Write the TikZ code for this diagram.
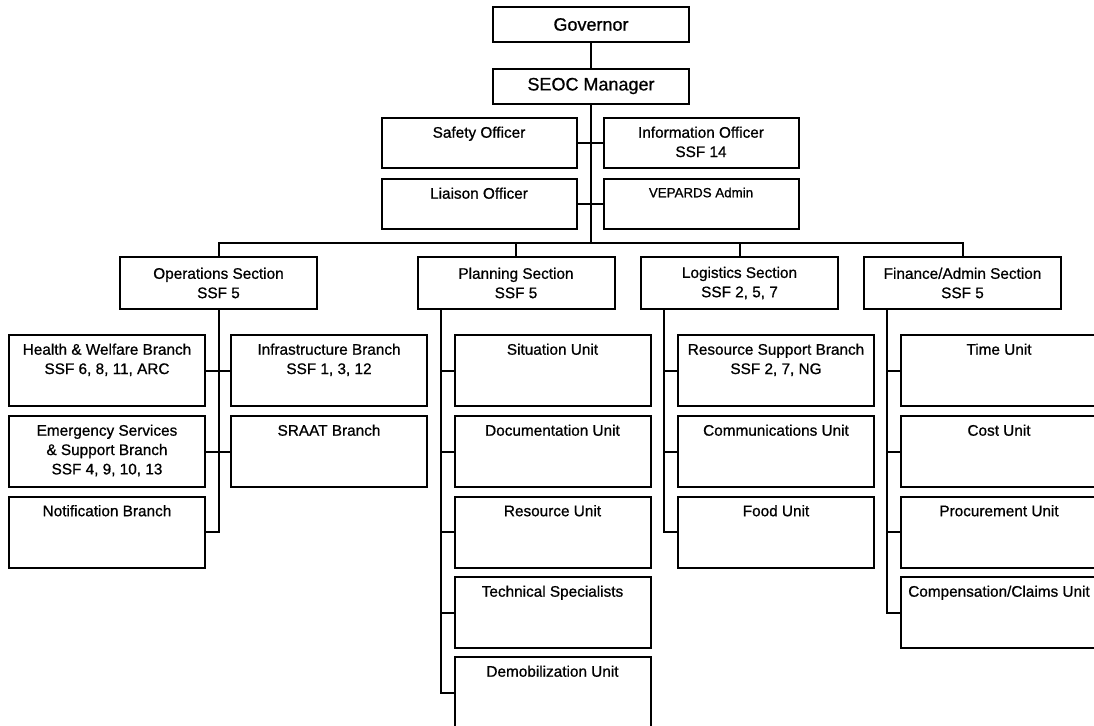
\documentclass[tikz,border=0pt]{standalone}
\usepackage{fontspec}
\setmainfont{Liberation Sans}[FakeBold=0.8,AutoFakeBold=0.8]
\usetikzlibrary{calc}

\begin{document}
\begin{tikzpicture}[x=0.75pt, y=-0.75pt,
  every node/.style={inner sep=0pt, align=center, font=\fontsize{11.5}{14.5}\selectfont\bfseries},
  chart/.style={draw, line width=1.5pt},
  head/.style={chart, minimum width=147pt, minimum height=26.25pt, font=\fontsize{13.5}{16}\selectfont\bfseries},
  officer/.style={chart, minimum width=146.25pt, minimum height=37.5pt, label={[toptext]north:#1}},
  section/.style={chart, minimum width=147.75pt, minimum height=39pt},
  unit/.style={chart, minimum width=147pt, minimum height=53.25pt, label={[toptext]north:#1}},
  toptext/.style={anchor=north, yshift=-7pt},
  link/.style={line width=1.5pt}]
\useasboundingbox (0,0) rectangle (1094,725);

% command staff
\node[head] (Governor) at (591,24.5) {Governor};
\node[head] (SEOC Manager) at (591,86) {SEOC Manager};
\node[officer={Safety Officer}] (Safety Officer) at (479,143) {};
\node[officer={Information Officer\\SSF 14}] (Information Officer) at (701,143) {};
\node[officer={Liaison Officer}] (Liaison Officer) at (479,204) {};
\node[officer={\fontsize{10}{12}\selectfont VEPARDS Admin}] (VEPARDS Admin) at (701,204) {};
\coordinate (Bus) at (591,243);

% sections
\node[section] (Operations Section) at (218.5,283) {Operations Section\\SSF 5};
\node[section] (Planning Section) at (516,283) {Planning Section\\SSF 5};
\node[section] (Logistics Section) at (739.5,283) {Logistics Section\\SSF 2, 5, 7};
\node[section] (Finance Section) at (962.5,283) {Finance/Admin Section\\SSF 5};

% operations
\node[unit={Health \& Welfare Branch\\SSF 6, 8, 11, ARC}] (Health Branch) at (107,370.5) {};
\node[unit={Infrastructure Branch\\SSF 1, 3, 12}] (Infrastructure Branch) at (329,370.5) {};
\node[unit={Emergency Services\\\& Support Branch\\SSF 4, 9, 10, 13}] (Emergency Branch) at (107,451.5) {};
\node[unit={SRAAT Branch}] (SRAAT Branch) at (329,451.5) {};
\node[unit={Notification Branch}] (Notification Branch) at (107,532) {};

% planning
\node[unit={Situation Unit}] (Situation Unit) at (552.5,370.5) {};
\node[unit={Documentation Unit}] (Documentation Unit) at (552.5,451.5) {};
\node[unit={Resource Unit}] (Resource Unit) at (552.5,532) {};
\node[unit={Technical Specialists}] (Technical Specialists) at (552.5,612.5) {};
\node[unit={Demobilization Unit}] (Demobilization Unit) at (552.5,692.5) {};

% logistics
\node[unit={Resource Support Branch\\SSF 2, 7, NG}] (Resource Support Branch) at (776,370.5) {};
\node[unit={Communications Unit}] (Communications Unit) at (776,451.5) {};
\node[unit={Food Unit}] (Food Unit) at (776,532) {};

% finance/admin
\node[unit={Time Unit}] (Time Unit) at (999,370.5) {};
\node[unit={Cost Unit}] (Cost Unit) at (999,451.5) {};
\node[unit={Procurement Unit}] (Procurement Unit) at (999,532) {};
\node[unit={Compensation/Claims Unit}] (Claims Unit) at (999,612.5) {};

\coordinate (Planning Trunk) at ($(Planning Section.south west)+(24,0)$);
\coordinate (Logistics Trunk) at ($(Logistics Section.south west)+(24,0)$);
\coordinate (Finance Trunk) at ($(Finance Section.south west)+(24,0)$);

\draw[link] (Governor) -- (SEOC Manager);
\draw[link] (SEOC Manager.south) -- (SEOC Manager.south |- Bus);
\draw[link] (Safety Officer) -- (Information Officer);
\draw[link] (Liaison Officer) -- (VEPARDS Admin);
\draw[link] (Operations Section.north) |- (Bus) -| (Finance Section.north);
\draw[link] (Planning Section.north) -- (Planning Section.north |- Bus);
\draw[link] (Logistics Section.north) -- (Logistics Section.north |- Bus);

\draw[link] (Operations Section) |- (Notification Branch);
\draw[link] (Health Branch) -- (Infrastructure Branch);
\draw[link] (Emergency Branch) -- (SRAAT Branch);

\draw[link] (Planning Trunk) |- (Demobilization Unit);
\foreach \u in {Situation Unit, Documentation Unit, Resource Unit, Technical Specialists}
  \draw[link] (\u) -- (\u -| Planning Trunk);

\draw[link] (Logistics Trunk) |- (Food Unit);
\foreach \u in {Resource Support Branch, Communications Unit}
  \draw[link] (\u) -- (\u -| Logistics Trunk);

\draw[link] (Finance Trunk) |- (Claims Unit);
\foreach \u in {Time Unit, Cost Unit, Procurement Unit}
  \draw[link] (\u) -- (\u -| Finance Trunk);
\end{tikzpicture}
\end{document}
